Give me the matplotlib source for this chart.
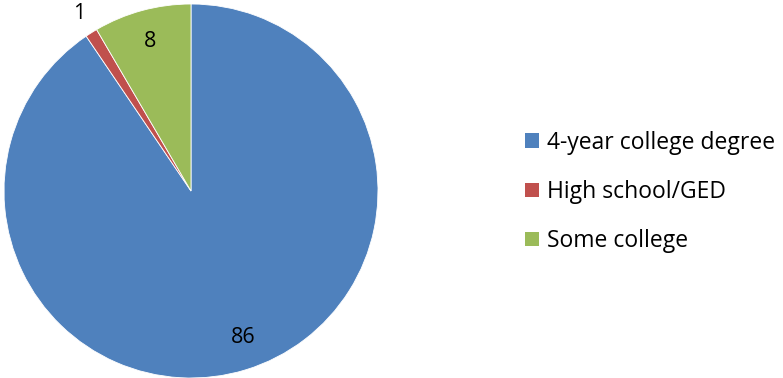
import numpy as np
import matplotlib.pyplot as plt
from matplotlib.patches import Patch

# Niveau d'études
categories = ['4-year college degree', 'High school/GED', 'Some college']
valeurs    = [86, 1, 8]
couleurs   = ['#4F81BD', '#C0504D', '#9BBB59']
# position des étiquettes : distance (fraction du rayon) et décalage angulaire (degrés)
dist_etiq  = [0.83, 1.12, 0.83]
decal_etiq = [2.5, 0, 0]

plt.rcParams['font.family'] = ['Open Sans', 'DejaVu Sans']

fig = plt.figure(figsize = (7.83, 3.78), dpi = 100)
ax  = fig.add_axes([4/783, 0, 374/783, 374/378])

wedges, _ = ax.pie(valeurs, colors = couleurs, startangle = 90,
                   counterclock = False, radius = 1,
                   wedgeprops = dict(edgecolor = 'white', linewidth = 0.6))

# étiquettes de valeur au milieu de chaque secteur
for w, v, d, dec in zip(wedges, valeurs, dist_etiq, decal_etiq):
    ang = np.deg2rad((w.theta1 + w.theta2) / 2 + dec)
    ax.text(d * np.cos(ang), d * np.sin(ang), str(v), fontsize = 15.5,
            ha = 'center', va = 'center', color = 'black')

ax.set_xlim(-1, 1)
ax.set_ylim(-1, 1)
ax.set_aspect('equal')
ax.axis('off')

handles = [Patch(facecolor = c, edgecolor = 'none') for c in couleurs]
fig.legend(handles, categories, loc = 'center left',
           bbox_to_anchor = (516/783, 1 - 192/378), frameon = False,
           fontsize = 16.5, handlelength = 0.6, handleheight = 0.6,
           handletextpad = 0.35, labelspacing = 1.1, borderaxespad = 0)

fig.savefig('out.png', dpi = 100)
